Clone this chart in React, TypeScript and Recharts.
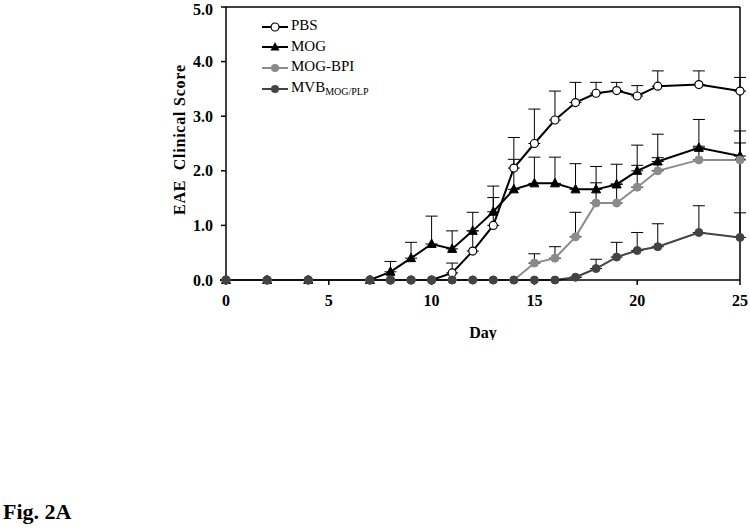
import {
  ErrorBar,
  Line,
  LineChart,
  ReferenceLine,
  XAxis,
  YAxis,
} from "recharts"

const days = [0, 2, 4, 7, 8, 9, 10, 11, 12, 13, 14, 15, 16, 17, 18, 19, 20, 21, 23, 25]

const pbs = [0, 0, 0, 0, 0, 0, 0, 0.13, 0.53, 1.0, 2.05, 2.5, 2.93, 3.25, 3.42, 3.47, 3.37, 3.55, 3.58, 3.46]
const pbsErr = [0, 0, 0, 0, 0, 0, 0, 0.18, 0.37, 0.51, 0.56, 0.63, 0.53, 0.37, 0.2, 0.15, 0.19, 0.28, 0.25, 0.25]

const mog = [0, 0, 0, 0, 0.15, 0.4, 0.66, 0.57, 0.9, 1.25, 1.66, 1.77, 1.77, 1.66, 1.66, 1.75, 2.0, 2.17, 2.42, 2.27]
const mogErr = [0, 0, 0, 0, 0.19, 0.29, 0.51, 0.33, 0.34, 0.47, 0.55, 0.48, 0.48, 0.47, 0.42, 0.37, 0.47, 0.5, 0.52, 0.46]

const mogBpi = [0, 0, 0, 0, 0, 0, 0, 0, 0, 0, 0, 0.31, 0.4, 0.79, 1.41, 1.41, 1.7, 2.0, 2.2, 2.2]
const mogBpiErr = [0, 0, 0, 0, 0, 0, 0, 0, 0, 0, 0, 0.17, 0.21, 0.45, 0.37, 0.35, 0.4, 0.24, 0.25, 0.31]

const mvb = [0, 0, 0, 0, 0, 0, 0, 0, 0, 0, 0, 0, 0, 0.05, 0.21, 0.42, 0.54, 0.61, 0.87, 0.78]
const mvbErr = [0, 0, 0, 0, 0, 0, 0, 0, 0, 0, 0, 0, 0, 0, 0.17, 0.27, 0.33, 0.42, 0.49, 0.45]

const xTicks = [0, 5, 10, 15, 20, 25]
const yTicks = [0, 1, 2, 3, 4, 5]

const data = days.map((day, i) => ({
  day,
  pbs: pbs[i],
  pbsErr: [0, pbsErr[i]],
  mog: mog[i],
  mogErr: [0, mogErr[i]],
  mogBpi: mogBpi[i],
  mogBpiErr: [0, mogBpiErr[i]],
  mvb: mvb[i],
  mvbErr: [0, mvbErr[i]],
}))

const serif = "'Liberation Serif', 'Times New Roman', serif"
const GRAY = "#8a8a8a"
const DARK = "#434343"

const Triangle = (props: any) => {
  const { cx, cy, index } = props
  if (cx == null || cy == null) return <g key={index} />
  return (
    <polygon
      key={index}
      points={`${cx},${cy - 5} ${cx - 4.5},${cy + 3.5} ${cx + 4.5},${cy + 3.5}`}
      fill="#000"
      stroke="#000"
      strokeWidth={1}
    />
  )
}

function LegendMarker({ kind }: { kind: string }) {
  return (
    <svg width={26} height={12} style={{ verticalAlign: "middle", marginRight: 3 }}>
      <line
        x1={0}
        x2={26}
        y1={6}
        y2={6}
        stroke={kind === "bpi" ? GRAY : kind === "mvb" ? DARK : "#000"}
        strokeWidth={2}
      />
      {kind === "pbs" && <circle cx={13} cy={6} r={4} fill="#fff" stroke="#000" strokeWidth={1.2} />}
      {kind === "mog" && <polygon points="13,1 8.5,9.5 17.5,9.5" fill="#000" />}
      {kind === "bpi" && <circle cx={13} cy={6} r={4} fill={GRAY} />}
      {kind === "mvb" && <circle cx={13} cy={6} r={4} fill={DARK} />}
    </svg>
  )
}

function ChartLegend() {
  const row = { height: 20.7, lineHeight: "20.7px", whiteSpace: "nowrap" as const }
  return (
    <div style={{ position: "absolute", left: 262, top: 15, fontFamily: serif, fontSize: 15, color: "#000" }}>
      <div style={row}>
        <LegendMarker kind="pbs" />PBS
      </div>
      <div style={row}>
        <LegendMarker kind="mog" />MOG
      </div>
      <div style={row}>
        <LegendMarker kind="bpi" />MOG-BPI
      </div>
      <div style={row}>
        <LegendMarker kind="mvb" />MVB<sub style={{ fontSize: 10, verticalAlign: "-3px" }}>MOG/PLP</sub>
      </div>
    </div>
  )
}

export default function App() {
  const tickStyle = { fill: "#000", fontSize: 16, fontWeight: 700, fontFamily: serif }
  return (
    <div style={{ position: "absolute", left: 0, top: 0, width: 750, height: 529, background: "#fff" }}>
      <LineChart
        width={750}
        height={340}
        data={data}
        margin={{ top: 7, right: 10, left: 0, bottom: 30 }}
      >
        <XAxis
          dataKey="day"
          type="number"
          domain={[0, 25]}
          ticks={xTicks}
          tick={tickStyle}
          tickSize={5}
          tickMargin={10}
          height={30}
          stroke="#000"
          strokeWidth={1.5}
        />
        <YAxis
          type="number"
          domain={[0, 5]}
          ticks={yTicks}
          tickFormatter={(v: number) => v.toFixed(1)}
          tick={tickStyle}
          tickSize={5}
          tickMargin={8}
          width={226}
          stroke="#000"
          strokeWidth={1.5}
        />
        <ReferenceLine y={5} stroke="#000" strokeWidth={1.5} />
        <ReferenceLine x={25} stroke="#000" strokeWidth={1.5} />
        <Line
          dataKey="pbs"
          stroke="#000"
          strokeWidth={2}
          isAnimationActive={false}
          dot={{ r: 4, fill: "#fff", stroke: "#000", strokeWidth: 1.2 }}
          activeDot={false}
        >
          <ErrorBar dataKey="pbsErr" direction="y" width={6} stroke="#000" strokeWidth={1} />
        </Line>
        <Line
          dataKey="mog"
          stroke="#000"
          strokeWidth={2}
          isAnimationActive={false}
          dot={Triangle}
          activeDot={false}
        >
          <ErrorBar dataKey="mogErr" direction="y" width={6} stroke="#000" strokeWidth={1} />
        </Line>
        <Line
          dataKey="mogBpi"
          stroke={GRAY}
          strokeWidth={2}
          isAnimationActive={false}
          dot={{ r: 4, fill: GRAY, stroke: GRAY, strokeWidth: 1 }}
          activeDot={false}
        >
          <ErrorBar dataKey="mogBpiErr" direction="y" width={6} stroke="#000" strokeWidth={1} />
        </Line>
        <Line
          dataKey="mvb"
          stroke={DARK}
          strokeWidth={2}
          isAnimationActive={false}
          dot={{ r: 4, fill: DARK, stroke: DARK, strokeWidth: 1 }}
          activeDot={false}
        >
          <ErrorBar dataKey="mvbErr" direction="y" width={6} stroke="#000" strokeWidth={1} />
        </Line>
      </LineChart>
      <ChartLegend />
      <svg style={{ position: "absolute", left: 0, top: 0 }} width={750} height={340} pointerEvents="none">
        <text
          x={0}
          y={0}
          transform="translate(185,140) rotate(-90)"
          textAnchor="middle"
          fontFamily={serif}
          fontSize={16}
          fontWeight={700}
          textLength={150}
          lengthAdjust="spacing"
        >
          {"EAE\u00a0\u00a0Clinical Score"}
        </text>
        <text
          x={483}
          y={338}
          textAnchor="middle"
          fontFamily={serif}
          fontSize={16}
          fontWeight={700}
        >
          Day
        </text>
      </svg>
      <div
        style={{
          position: "absolute",
          left: 3,
          top: 499,
          fontFamily: serif,
          fontSize: 22,
          fontWeight: 700,
          color: "#000",
        }}
      >
        Fig. 2A
      </div>
    </div>
  )
}
